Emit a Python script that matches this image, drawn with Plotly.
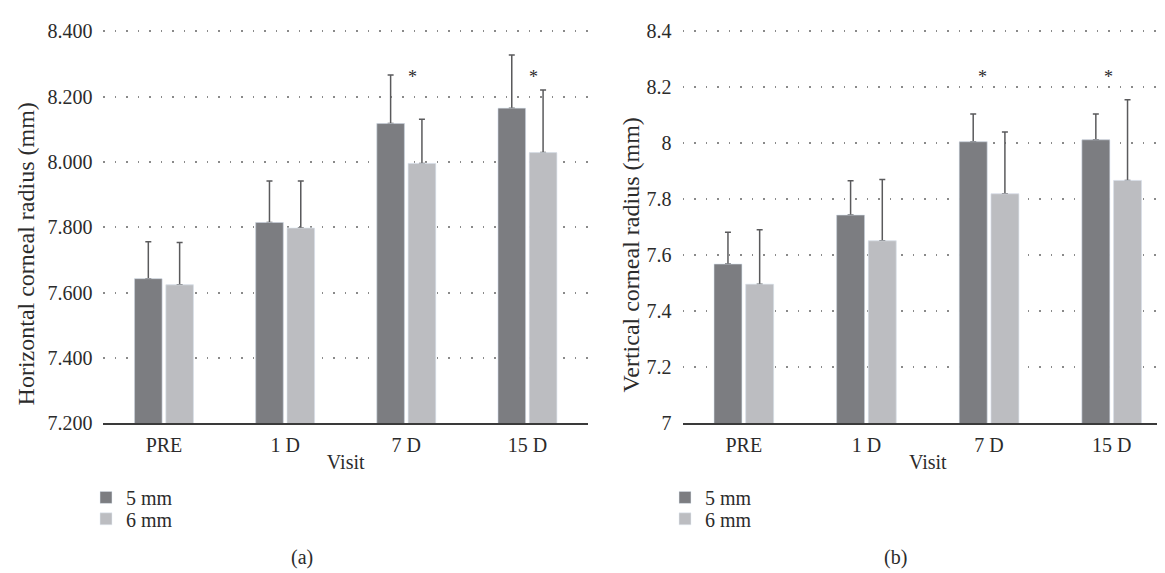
import plotly.graph_objects as go

categories = ["PRE", "1 D", "7 D", "15 D"]

h_5mm = [7.643, 7.815, 8.118, 8.165]
h_5mm_err = [0.113, 0.127, 0.149, 0.163]
h_6mm = [7.624, 7.798, 7.996, 8.029]
h_6mm_err = [0.130, 0.144, 0.135, 0.192]

v_5mm = [7.569, 7.744, 8.006, 8.013]
v_5mm_err = [0.114, 0.123, 0.099, 0.092]
v_6mm = [7.497, 7.652, 7.820, 7.868]
v_6mm_err = [0.195, 0.219, 0.221, 0.288]

sig_categories = ["7 D", "15 D"]
h_sig_y = [8.262, 8.262]
v_sig_y = [8.238, 8.238]

C5 = "#7c7d81"
C6 = "#bcbdc1"
ERR = "#5a5a5c"
FONT = "Liberation Serif"
TXT = "#2b2b2b"

W, H = 1165, 573

def err(a):
    return dict(type="data", array=a, arrayminus=[0] * len(a), symmetric=False,
                color=ERR, thickness=1.5, width=3)

fig = go.Figure()
panels = [("x", "y", h_5mm, h_5mm_err, h_6mm, h_6mm_err, "legend", "legend3"),
          ("x2", "y2", v_5mm, v_5mm_err, v_6mm, v_6mm_err, "legend2", "legend4")]
for xa, ya, y5, e5, y6, e6, l5, l6 in panels:
    # bars carrying the upward error bars
    fig.add_trace(go.Bar(x=categories, y=y5, marker_color=C5, error_y=err(e5),
                         offsetgroup=xa + "a", xaxis=xa, yaxis=ya, showlegend=False,
                         hoverinfo="skip"))
    fig.add_trace(go.Bar(x=categories, y=y6, marker_color=C6, error_y=err(e6),
                         offsetgroup=xa + "b", xaxis=xa, yaxis=ya, showlegend=False,
                         hoverinfo="skip"))
    # same bars drawn on top, hiding the lower part of the error bars
    fig.add_trace(go.Bar(x=categories, y=y5, name="5 mm", marker_color=C5,
                         offsetgroup=xa + "a", xaxis=xa, yaxis=ya, legend=l5))
    fig.add_trace(go.Bar(x=categories, y=y6, name="6 mm", marker_color=C6,
                         offsetgroup=xa + "b", xaxis=xa, yaxis=ya, legend=l6))

ydom = [1 - 421 / H, 1 - 13 / H]
grid = dict(showgrid=True, gridcolor="#8a8a8a", gridwidth=1.5, griddash="1.5px,10px",
            zeroline=False, ticks="", ticklabelstandoff=10,
            tickfont=dict(family=FONT, size=20, color=TXT))
xcommon = dict(showline=True, linecolor="#3a3a3a", linewidth=1.5, ticks="",
               ticklabelstandoff=3,
               tickfont=dict(family=FONT, size=20, color=TXT),
               title=dict(text="Visit", font=dict(family=FONT, size=20, color=TXT), standoff=0),
               showgrid=False, zeroline=False)

def leg(xpx, ypx):
    return dict(x=xpx / W, y=1 - ypx / H, xanchor="left", yanchor="middle",
                font=dict(family=FONT, size=20, color=TXT),
                bgcolor="rgba(0,0,0,0)", borderwidth=0)

fig.update_layout(
    width=W, height=H,
    margin=dict(l=0, r=0, t=0, b=0),
    paper_bgcolor="white", plot_bgcolor="white",
    barmode="group", bargap=0.483, bargroupgap=0.12,
    font=dict(family=FONT, color=TXT),
    xaxis=dict(domain=[95.4 / W, 580 / W], anchor="y", **xcommon),
    yaxis=dict(domain=ydom, anchor="x", range=[7.2, 8.4059], dtick=0.2, tick0=7.2,
               tickformat=".3f", **grid),
    xaxis2=dict(domain=[674.5 / W, 1.0], anchor="y2", **xcommon),
    yaxis2=dict(domain=ydom, anchor="x2", range=[7.0, 8.4069], dtick=0.2, tick0=7.0, **grid),
    legend=leg(78, 497.8),
    legend3=leg(78, 520),
    legend2=leg(657, 497.8),
    legend4=leg(657, 520),
    showlegend=True,
)

def note(x, y, text, size, angle=0):
    return dict(x=x / W, y=1 - y / H, xref="paper", yref="paper", text=text,
                textangle=angle, showarrow=False, xanchor="center", yanchor="middle",
                font=dict(family=FONT, size=size, color=TXT))

ann = []
for c, yv, sh in zip(sig_categories, h_sig_y, [6, 6]):
    ann.append(dict(x=c, y=yv, xref="x", yref="y", text="*", showarrow=False,
                    xshift=sh, font=dict(family=FONT, size=18, color=TXT)))
for c, yv, sh in zip(sig_categories, v_sig_y, [-7, -3]):
    ann.append(dict(x=c, y=yv, xref="x2", yref="y2", text="*", showarrow=False,
                    xshift=sh, font=dict(family=FONT, size=18, color=TXT)))
ann.append(note(18, 246, "Horizontal corneal radius (mm)", 24, -90))
ann.append(note(623, 246, "Vertical corneal radius (mm)", 24, -90))
ann.append(note(294, 560, "(a)", 20))
ann.append(note(887, 560, "(b)", 20))
fig.update_layout(annotations=ann)

fig.write_html("out.html")
